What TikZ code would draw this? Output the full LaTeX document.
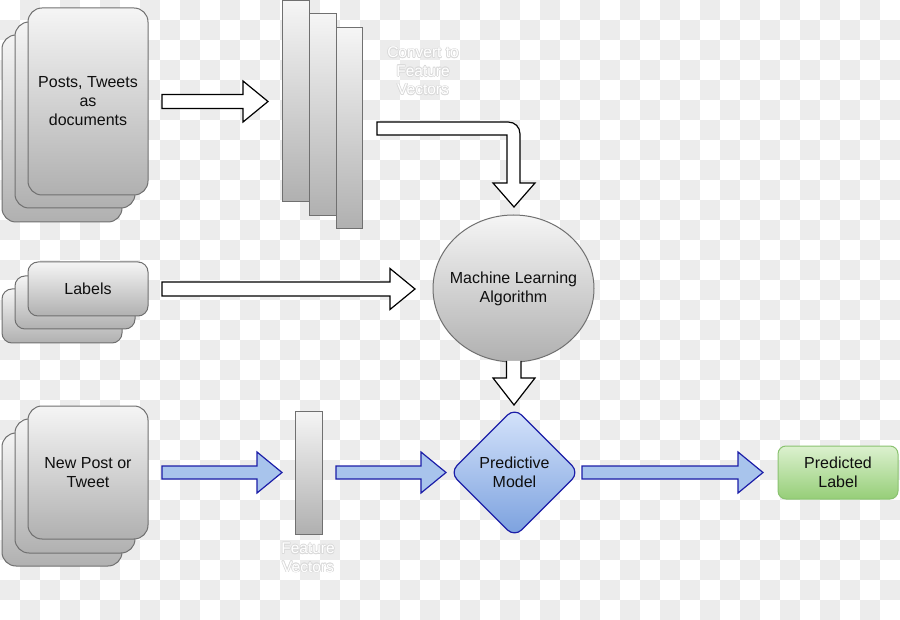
\documentclass[tikz,border=0pt]{standalone}
\usepackage{fontspec}
\setmainfont{Liberation Sans}
\usetikzlibrary{calc,shapes.geometric}
\definecolor{chk}{RGB}{236,236,236}
\definecolor{halo}{RGB}{218,218,218}
\definecolor{gtop}{RGB}{245,245,245}
\definecolor{gbot}{RGB}{176,176,176}
\definecolor{gline}{RGB}{112,112,112}
\definecolor{btop}{RGB}{214,228,251}
\definecolor{bbot}{RGB}{122,160,222}
\definecolor{bline}{RGB}{28,30,168}
\definecolor{afill}{RGB}{168,196,236}
\definecolor{ltop}{RGB}{220,241,207}
\definecolor{lbot}{RGB}{150,206,120}
\definecolor{lline}{RGB}{138,194,112}
\definecolor{txt}{RGB}{15,15,15}
\newcommand\hblock[4]{% style, start, end, shaft half width
  \draw[#1] let \p1=(#2), \p2=(#3) in
  (\x1,{\y1+#4}) -- ({\x2-25pt},{\y1+#4}) -- ({\x2-25pt},{\y1+20.5pt}) -- (\x2,\y1)
  -- ({\x2-25pt},{\y1-20.5pt}) -- ({\x2-25pt},{\y1-#4}) -- (\x1,{\y1-#4}) -- cycle;}
\newcommand\halotext[3]{% name, position, text
  \foreach \dx/\dy in {-0.7/0,0.7/0,0/-0.7,0/0.7,-0.5/-0.5,0.5/0.5,-0.5/0.5,0.5/-0.5}{
    \node[wtx, text=halo] at ($(#2)+(\dx,\dy)$) {#3};}
  \node[wtx] (#1) at (#2) {#3};}
\begin{document}
\begin{tikzpicture}[x=1pt,y=-1pt,
  gbox/.style={draw=gline, line width=1pt, top color=gtop, bottom color=gbot, inner sep=0pt},
  tx/.style={text=txt, align=center, font=\fontsize{16}{19}\selectfont},
  wtx/.style={text=white, align=center, font=\fontsize{15.5}{18.5}\selectfont},
  hollow/.style={draw=black, line width=1.2pt, fill=white, line join=miter},
  bluearr/.style={draw=bline, line width=1.2pt, fill=afill, line join=miter}]
\useasboundingbox (0,0) rectangle (900,620);
\fill[white] (0,0) rectangle (900,620);
\foreach \i in {0,...,44}{
  \foreach \j in {0,...,30}{
    \pgfmathtruncatemacro\myparity{mod(\i+\j,2)}
    \ifnum\myparity=1 \fill[chk] (\i*20,\j*20) rectangle ++(20,20);\fi
  }
}
% Posts stack
\node[gbox, rounded corners=14pt, minimum width=120pt, minimum height=187pt] (p3) at (62,128.5) {};
\node[gbox, rounded corners=14pt, minimum width=120pt, minimum height=186pt] (p2) at (75,115) {};
\node[gbox, rounded corners=14pt, minimum width=120pt, minimum height=187pt, tx] (posts) at (88,101.5) {Posts, Tweets\\as\\documents};
% Labels stack
\node[gbox, rounded corners=10pt, minimum width=120pt, minimum height=54pt] (l3) at (62,316) {};
\node[gbox, rounded corners=10pt, minimum width=120pt, minimum height=53pt] (l2) at (75,302.5) {};
\node[gbox, rounded corners=10pt, minimum width=120pt, minimum height=54pt, tx] (labels) at (88,289) {Labels};
% New post stack
\node[gbox, rounded corners=14pt, minimum width=120pt, minimum height=133pt] (n3) at (62,499.5) {};
\node[gbox, rounded corners=14pt, minimum width=120pt, minimum height=134pt] (n2) at (75,486) {};
\node[gbox, rounded corners=14pt, minimum width=120pt, minimum height=133pt, tx] (newpost) at (88,472.5) {New Post or\\Tweet};
% Feature bars
\node[gbox, minimum width=27pt, minimum height=201pt] (b1) at (295.5,101.5) {};
\node[gbox, minimum width=27pt, minimum height=202pt] (b2) at (322.5,115) {};
\node[gbox, minimum width=26.5pt, minimum height=201pt] (b3) at (349.25,128.5) {};
\coordinate (convpos) at (423,71);
\halotext{conv}{convpos}{Convert to\\Feature\\Vectors}
\node[gbox, minimum width=27pt, minimum height=123pt] (fv) at (308.5,472.5) {};
\coordinate (fvpos) at (308,557.5);
\halotext{fvt}{fvpos}{Feature\\Vectors}
% Machine learning ellipse
\node[ellipse, draw=gline, line width=1pt, top color=gtop, bottom color=gbot,
      minimum width=161pt, minimum height=147pt, inner sep=0pt] (ml) at (513.5,288.5) {};
\node[tx] (mlt) at (ml.center) {Machine Learning\\Algorithm};
% Predictive model diamond
\coordinate (pm) at (514.5,472.5);
\path[draw=bline, line width=1.2pt, top color=btop, bottom color=bbot, rounded corners=10pt]
  ($(pm)+(0,-64.5)$) -- ($(pm)+(64.5,0)$) -- ($(pm)+(0,64.5)$) -- ($(pm)+(-64.5,0)$) -- cycle;
\node[tx] (pmt) at (pm) {Predictive\\Model};
% Predicted label
\node[draw=lline, line width=1pt, top color=ltop, bottom color=lbot, rounded corners=8pt,
      minimum width=120pt, minimum height=53pt, inner sep=0pt, tx] (pl) at (838,472.5) {Predicted\\Label};
% Arrows
\coordinate (a1s) at (162,101.5); \coordinate (a1e) at (268,101.5);
\hblock{hollow}{a1s}{a1e}{7pt}
\coordinate (a2s) at (162,289); \coordinate (a2e) at (415,289);
\hblock{hollow}{a2s}{a2e}{7pt}
\coordinate (a3s) at (162,472.5); \coordinate (a3e) at (282,472.5);
\hblock{bluearr}{a3s}{a3e}{6.5pt}
\coordinate (a4s) at (336,472.5); \coordinate (a4e) at (446,472.5);
\hblock{bluearr}{a4s}{a4e}{6.5pt}
\coordinate (a5s) at (582,472.5); \coordinate (a5e) at (763,472.5);
\hblock{bluearr}{a5s}{a5e}{6.5pt}
% Bent arrow into ML
\draw[hollow] (377,122) -- (508,122) .. controls (515,122) and (520,127) .. (520,134)
  -- (520,183) -- (535,183) -- (514,207) -- (493,183) -- (507,183) -- (507,135) -- (377,135) -- cycle;
% Down arrow from ML to model
\draw[hollow] (506.5,361) -- (506.5,378) -- (493,378) -- (514,405) -- (535,378) -- (521,378) -- (521,361);
\end{tikzpicture}
\end{document}
